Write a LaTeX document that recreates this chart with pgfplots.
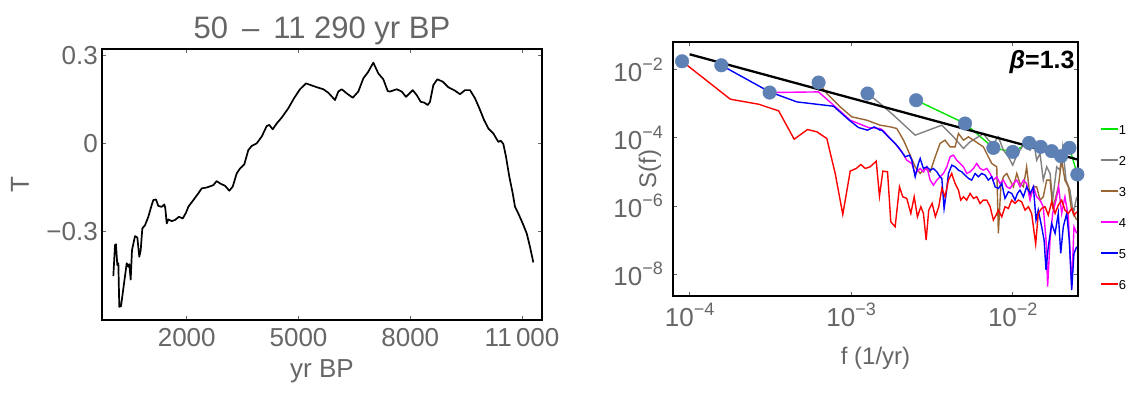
\documentclass[border=0pt]{standalone}
\usepackage{fontspec}
\setmainfont{Liberation Sans}
\usepackage{pgfplots}
\pgfplotsset{compat=1.18}
\usepackage{pgfplotstable}
\definecolor{txtgray}{gray}{0.4}
\definecolor{mgreen}{RGB}{0,230,0}
\definecolor{mgray}{gray}{0.5}
\definecolor{mbrown}{rgb}{0.6,0.4,0.2}
\definecolor{mmag}{RGB}{255,0,255}
\definecolor{mblue}{RGB}{0,0,255}
\definecolor{mred}{RGB}{255,0,0}
\definecolor{dotblue}{rgb}{0.368,0.507,0.71}
\newcommand\fs[1]{\fontsize{#1}{#1}\selectfont}
\newcommand\tp[1]{10\raisebox{0.42em}{\fs{18}−#1}}

\pgfplotstableread{
yr T
30 -0.454
75 -0.348
100 -0.345
137 -0.416
165 -0.41
190 -0.559
236 -0.557
389 -0.41
433 -0.422
459 -0.413
496 -0.466
531 -0.365
612 -0.317
674 -0.322
727 -0.388
765 -0.365
808 -0.291
880 -0.28
969 -0.251
1060 -0.211
1103 -0.194
1175 -0.192
1237 -0.214
1328 -0.217
1398 -0.209
1425 -0.222
1463 -0.274
1506 -0.26
1597 -0.266
1685 -0.262
1793 -0.251
1892 -0.257
1981 -0.237
2043 -0.217
2177 -0.194
2311 -0.171
2402 -0.154
2536 -0.151
2713 -0.143
2804 -0.129
2893 -0.137
3027 -0.145
3143 -0.162
3234 -0.148
3341 -0.103
3430 -0.086
3545 -0.072
3653 -0.023
3743 -0.009
3878 0.0
4012 0.023
4146 0.059
4217 0.063
4307 0.048
4415 0.068
4549 0.088
4727 0.12
4879 0.154
5040 0.185
5201 0.205
5309 0.2
5488 0.192
5666 0.185
5800 0.173
5980 0.148
6068 0.177
6159 0.185
6293 0.171
6455 0.156
6605 0.177
6739 0.222
6873 0.245
7008 0.276
7142 0.239
7276 0.219
7394 0.179
7455 0.177
7636 0.185
7770 0.177
7885 0.159
8065 0.182
8172 0.165
8280 0.142
8377 0.139
8467 0.131
8529 0.142
8618 0.199
8725 0.219
8870 0.211
9020 0.192
9200 0.18
9334 0.168
9469 0.182
9603 0.182
9737 0.154
9853 0.12
9979 0.08
10095 0.051
10228 0.034
10363 0.005
10427 0.009
10497 -0.002
10569 -0.046
10658 -0.114
10749 -0.171
10811 -0.217
10900 -0.24
11018 -0.274
11125 -0.308
11213 -0.354
11302 -0.407
}\tempdata

% spectra: log10 f, log10 S
\pgfplotstableread{
lf lS
-2.598 -2.900
-2.295 -3.583
-2.120 -4.298
-2.000 -4.415
-1.899 -4.151
-1.827 -4.268
-1.759 -4.394
-1.701 -4.541
-1.649 -4.298
-1.600 -5.077
}\sone

\pgfplotstableread{
lf lS
-2.899 -2.703
-2.821 -2.997
-2.738 -3.339
-2.604 -3.925
-2.439 -3.632
-2.388 -3.877
-2.367 -3.974
-2.305 -4.316
-2.264 -4.121
-2.213 -3.974
-2.182 -3.877
-2.151 -4.072
-2.120 -4.170
-2.089 -3.974
-2.058 -4.365
-2.027 -4.560
-2.000 -4.805
-1.975 -4.512
-1.955 -4.365
-1.934 -4.219
-1.914 -4.316
-1.893 -4.365
-1.872 -4.072
-1.852 -4.658
-1.831 -4.463
-1.811 -5.244
-1.790 -4.854
-1.769 -5.049
-1.753 -5.830
-1.728 -4.854
-1.708 -4.951
-1.691 -4.267
-1.670 -5.244
-1.646 -5.537
-1.625 -6.221
-1.604 -5.733
}\stwo

\pgfplotstableread{
lf lS
-3.202 -2.381
-3.151 -2.704
-3.068 -3.095
-2.996 -3.388
-2.903 -3.486
-2.821 -3.632
-2.759 -3.681
-2.718 -3.730
-2.676 -4.072
-2.635 -4.512
-2.604 -4.854
-2.573 -5.049
-2.542 -4.902
-2.511 -5.000
-2.480 -4.560
-2.450 -4.170
-2.419 -4.072
-2.388 -4.267
-2.357 -4.267
-2.336 -3.877
-2.305 -4.072
-2.274 -3.974
-2.243 -4.072
-2.213 -4.170
-2.182 -4.267
-2.151 -4.560
-2.130 -4.756
-2.099 -4.854
-2.089 -6.807
-2.074 -5.440
-2.058 -5.147
-2.037 -5.049
-2.017 -5.244
-1.996 -5.440
-1.975 -5.049
-1.955 -5.342
-1.934 -5.440
-1.914 -4.854
-1.893 -5.733
-1.872 -5.440
-1.852 -5.440
-1.831 -5.830
-1.811 -5.733
-1.790 -5.244
-1.769 -5.244
-1.753 -6.026
-1.738 -5.830
-1.718 -5.440
-1.697 -4.658
-1.677 -5.244
-1.656 -5.440
-1.639 -6.026
-1.625 -6.221
-1.604 -6.416
}\sthree

\pgfplotstableread{
lf lS
-3.505 -2.674
-3.202 -2.655
-3.109 -3.046
-3.006 -3.486
-2.893 -3.701
-2.821 -3.730
-2.800 -3.798
-2.769 -3.974
-2.728 -4.170
-2.687 -4.414
-2.656 -4.658
-2.625 -4.756
-2.604 -5.049
-2.573 -4.902
-2.553 -5.000
-2.532 -4.854
-2.511 -5.244
-2.491 -5.391
-2.470 -5.244
-2.450 -5.147
-2.429 -5.049
-2.408 -4.854
-2.388 -4.560
-2.367 -4.512
-2.347 -4.658
-2.326 -4.756
-2.305 -4.854
-2.285 -5.049
-2.264 -5.000
-2.243 -4.902
-2.223 -4.756
-2.202 -4.902
-2.182 -4.951
-2.161 -4.902
-2.140 -5.049
-2.120 -5.244
-2.099 -5.147
-2.079 -5.342
-2.058 -5.244
-2.037 -5.440
-2.017 -5.489
-1.996 -5.342
-1.975 -5.244
-1.955 -5.440
-1.934 -5.244
-1.914 -5.342
-1.893 -5.830
-1.872 -5.440
-1.852 -5.733
-1.831 -5.830
-1.811 -6.026
-1.794 -7.003
-1.784 -8.370
-1.769 -7.003
-1.753 -6.221
-1.732 -5.830
-1.716 -5.440
-1.697 -6.221
-1.677 -5.733
-1.656 -6.319
-1.635 -8.370
-1.621 -6.612
-1.604 -6.807
}\sfour

\pgfplotstableread{
lf lS
-3.804 -1.874
-3.505 -2.655
-3.336 -2.949
-3.109 -3.076
-3.017 -3.466
-2.955 -3.701
-2.899 -3.779
-2.858 -3.681
-2.821 -3.779
-2.810 -3.779
-2.779 -3.925
-2.748 -4.072
-2.718 -4.219
-2.687 -4.414
-2.666 -4.560
-2.639 -4.512
-2.625 -4.658
-2.604 -5.147
-2.584 -4.756
-2.573 -4.609
-2.553 -4.902
-2.532 -4.854
-2.511 -4.951
-2.491 -4.902
-2.470 -5.000
-2.450 -5.147
-2.439 -5.195
-2.425 -6.075
-2.412 -5.635
-2.398 -5.049
-2.377 -4.805
-2.357 -4.854
-2.336 -4.951
-2.316 -5.000
-2.295 -5.098
-2.274 -5.195
-2.254 -5.244
-2.233 -5.049
-2.213 -5.147
-2.192 -5.049
-2.171 -5.098
-2.151 -5.244
-2.130 -5.147
-2.109 -5.440
-2.089 -5.489
-2.068 -5.342
-2.048 -5.781
-2.027 -5.586
-2.006 -5.635
-1.986 -5.830
-1.971 -5.635
-1.955 -5.537
-1.934 -5.733
-1.914 -5.440
-1.893 -5.635
-1.872 -5.440
-1.856 -6.416
-1.842 -6.123
-1.821 -6.612
-1.806 -7.003
-1.794 -7.882
-1.780 -7.198
-1.759 -6.514
-1.738 -6.807
-1.718 -6.221
-1.703 -7.393
-1.687 -6.612
-1.666 -6.221
-1.650 -7.003
-1.635 -8.468
-1.621 -7.393
-1.604 -7.198
}\sfive

\pgfplotstableread{
lf lS
-4.047 -1.757
-3.748 -2.870
-3.573 -3.017
-3.449 -3.212
-3.353 -4.043
-3.270 -3.759
-3.212 -3.828
-3.151 -4.023
-3.099 -5.049
-3.052 -6.251
-3.006 -4.980
-2.969 -4.902
-2.940 -4.785
-2.913 -4.902
-2.883 -4.854
-2.845 -4.688
-2.825 -5.713
-2.804 -4.980
-2.775 -5.000
-2.755 -6.465
-2.728 -6.612
-2.701 -5.440
-2.681 -5.733
-2.656 -5.781
-2.631 -6.221
-2.610 -5.733
-2.590 -6.319
-2.569 -6.026
-2.553 -6.221
-2.536 -7.003
-2.520 -6.123
-2.499 -5.928
-2.479 -6.319
-2.458 -6.026
-2.439 -5.489
-2.419 -5.733
-2.398 -5.244
-2.378 -5.049
-2.357 -5.342
-2.336 -5.537
-2.322 -5.830
-2.305 -5.733
-2.285 -5.830
-2.264 -5.635
-2.243 -5.781
-2.223 -5.733
-2.202 -5.928
-2.182 -5.830
-2.161 -5.830
-2.140 -6.026
-2.120 -6.416
-2.103 -6.270
-2.089 -6.123
-2.068 -6.319
-2.048 -6.026
-2.027 -6.075
-2.006 -5.830
-1.986 -5.928
-1.965 -5.830
-1.945 -5.879
-1.924 -6.123
-1.903 -6.026
-1.883 -6.221
-1.858 -7.120
-1.842 -6.221
-1.821 -6.075
-1.800 -6.026
-1.780 -6.270
-1.759 -5.879
-1.738 -6.221
-1.718 -5.977
-1.697 -5.830
-1.677 -6.123
-1.656 -6.221
-1.635 -6.075
-1.619 -6.270
-1.604 -6.172
}\ssix

\pgfplotstableread{
lf lS
-4.047 -1.757
-3.804 -1.874
-3.505 -2.674
-3.202 -2.381
-2.899 -2.703
-2.598 -2.900
-2.295 -3.583
-2.120 -4.298
-2.000 -4.415
-1.899 -4.151
-1.827 -4.268
-1.759 -4.394
-1.701 -4.541
-1.649 -4.298
-1.600 -5.077
}\sdots

\pgfplotstableread{
lf lS
-4.000 -1.552
-1.600 -4.638
}\sfit

\begin{document}
\begin{tikzpicture}
\path[use as bounding box] (0pt,0pt) rectangle (1140pt,395pt);

\begin{axis}[
  at={(102pt,75pt)}, anchor=south west,
  scale only axis, width=440pt, height=271pt,
  clip mode=individual,
  xmin=-274, xmax=11535, ymin=-0.604, ymax=0.3226,
  scaled x ticks=false, scaled y ticks=false,
  xtick={2000,5000,8000,11000},
  xticklabels={2000,5000,8000,11\,000},
  ytick={-0.3,0,0.3},
  yticklabels={−0.3,0,0.3},
  tick align=inside, major tick length=4pt,
  tick style={black!60, line width=0.6pt},
  axis line style={black, line width=1.1pt},
  xticklabel style={font=\fs{26}, text=txtgray, inner sep=0pt, anchor=north, yshift=-8pt},
  yticklabel style={font=\fs{26}, text=txtgray, inner sep=0pt, anchor=east, xshift=-4pt},
  xlabel={yr BP},
  xlabel style={font=\fs{26}, text=txtgray, at={(axis description cs:0.5,-0.19)}, anchor=center},
  ylabel={T},
  ylabel style={font=\fs{26}, text=txtgray, at={(axis description cs:-0.1864,0.5)}, anchor=center},
]
\addplot[black, line width=1.7pt, line join=round] table[x=yr, y=T] {\tempdata};
\node[font=\fs{31}, text=txtgray, inner sep=0pt, anchor=base] at (rel axis cs:0.5,1.038) {50\hspace{0.45em}–\hspace{0.45em}11 290 yr BP};
\end{axis}

\begin{axis}[
  at={(673pt,99pt)}, anchor=south west,
  scale only axis, width=405pt, height=254pt,
  clip mode=individual,
  xmin=-4.103, xmax=-1.596, ymin=-8.644, ymax=-1.191,
  xtick={-4,-3,-2},
  xticklabels={\tp{4},\tp{3},\tp{2}},
  ytick={-8,-6,-4,-2},
  yticklabels={\tp{8},\tp{6},\tp{4},\tp{2}},
  tick align=inside, major tick length=4pt,
  tick style={black!60, line width=0.6pt},
  axis line style={black, line width=1.1pt},
  xticklabel style={font=\fs{26}, text=txtgray, inner sep=0pt, anchor=north, yshift=-7pt},
  yticklabel style={font=\fs{26}, text=txtgray, inner sep=0pt, anchor=east, xshift=-10pt},
  xlabel={f (1/yr)},
  xlabel style={font=\fs{24}, text=txtgray, at={(axis description cs:0.5,-0.245)}, anchor=center},
  ylabel={S(f)},
  ylabel style={font=\fs{24}, text=txtgray, at={(axis description cs:-0.0568,0.5)}, anchor=center},
  legend style={draw=none, fill=none, inner sep=0pt, at={(axis description cs:1.054,0.677)}, anchor=north west,
    font=\fs{13}, row sep=21pt, nodes={inner sep=0pt, text height=10pt, text depth=0pt},
    /tikz/every even column/.style={column sep=9pt}},
  legend image code/.code={\draw[#1, line width=1.8pt] (0pt,0pt) -- (17pt,0pt);},
]
\addplot[mgreen, line width=1.4pt] table[x=lf, y=lS] {\sone};
\addlegendentry{1}
\addplot[mgray, line width=1.4pt] table[x=lf, y=lS] {\stwo};
\addlegendentry{2}
\addplot[mbrown, line width=1.4pt] table[x=lf, y=lS] {\sthree};
\addlegendentry{3}
\addplot[mmag, line width=1.4pt] table[x=lf, y=lS] {\sfour};
\addlegendentry{4}
\addplot[mblue, line width=1.4pt] table[x=lf, y=lS] {\sfive};
\addlegendentry{5}
\addplot[mred, line width=1.4pt] table[x=lf, y=lS] {\ssix};
\addlegendentry{6}
\addplot[black, line width=2.3pt, forget plot] table[x=lf, y=lS] {\sfit};
\addplot[only marks, mark=*, mark size=6.8pt, dotblue, mark options={draw=none, fill=dotblue}, forget plot] table[x=lf, y=lS] {\sdots};
\node[anchor=east, font=\fs{25}\bfseries, inner sep=0pt] at (rel axis cs:0.992,0.923) {\textit{β}=1.3};
\end{axis}
\end{tikzpicture}
\end{document}
